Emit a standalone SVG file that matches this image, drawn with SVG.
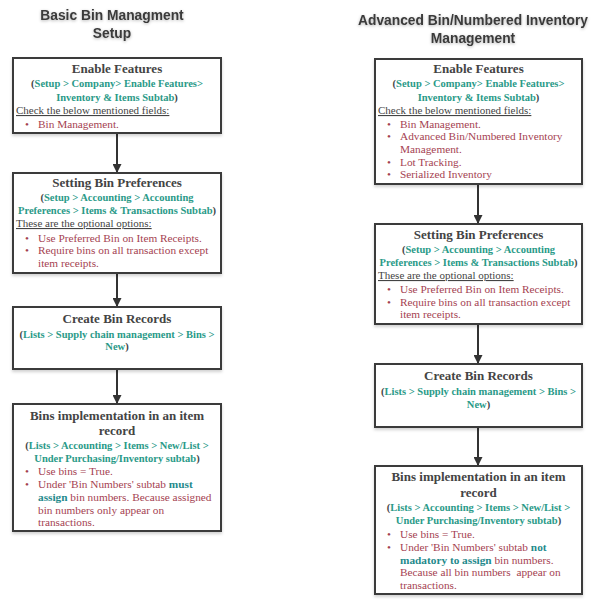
<svg xmlns="http://www.w3.org/2000/svg" width="597" height="600" viewBox="0 0 597 600">
<defs>
<filter id="sh" x="-10%" y="-10%" width="130%" height="130%"><feDropShadow dx="0" dy="2" stdDeviation="1.5" flood-color="#000" flood-opacity="0.18"/></filter>
<filter id="tsh" x="-10%" y="-30%" width="120%" height="170%"><feDropShadow dx="0" dy="1" stdDeviation="1.5" flood-color="#000" flood-opacity="0.3"/></filter>
<marker id="ah" viewBox="0 0 10 10" refX="10" refY="5" markerWidth="9" markerHeight="9" markerUnits="userSpaceOnUse" orient="auto"><path d="M0,0 L10,5 L0,10 z" fill="#333"/></marker>
</defs>
<style>
.title{font-family:"Liberation Sans",Arial,sans-serif;font-weight:bold;font-size:13.8px;fill:#3a3a3a;text-anchor:middle}
.box{fill:#fff;stroke:#3a3a3a;stroke-width:2}
.h{font-family:"Liberation Serif","Times New Roman",serif;font-weight:bold;font-size:13px;fill:#444;text-anchor:middle}
.g{font-family:"Liberation Serif","Times New Roman",serif;font-weight:bold;font-size:10.5px;fill:#2a9a88;text-anchor:middle}
.gp{fill:#444}
.u{font-family:"Liberation Serif","Times New Roman",serif;font-size:11px;fill:#444;text-decoration:underline}
.r{font-family:"Liberation Serif","Times New Roman",serif;font-size:11.3px;fill:#a53f52}
.b{font-weight:bold;fill:#1f8a8c}
.c{fill:none;stroke:#333;stroke-width:2}
</style>
<rect width="597" height="600" fill="#fff"/>
<g id="titles">
<text class="title" filter="url(#tsh)" x="112" y="20">Basic Bin Managment</text>
<text class="title" filter="url(#tsh)" x="112" y="38">Setup</text>
<text class="title" filter="url(#tsh)" x="473" y="25">Advanced Bin/Numbered Inventory</text>
<text class="title" filter="url(#tsh)" x="473" y="43">Management</text>
</g>
<g id="connectors">
<line class="c" x1="117" y1="133" x2="117" y2="173" marker-end="url(#ah)"/>
<line class="c" x1="117" y1="273" x2="117" y2="307" marker-end="url(#ah)"/>
<line class="c" x1="117" y1="369" x2="117" y2="404" marker-end="url(#ah)"/>
<line class="c" x1="478" y1="184" x2="478" y2="224" marker-end="url(#ah)"/>
<line class="c" x1="478" y1="324" x2="478" y2="364" marker-end="url(#ah)"/>
<line class="c" x1="478" y1="427" x2="478" y2="466" marker-end="url(#ah)"/>
</g>
<g id="l1">
<rect class="box" filter="url(#sh)" x="13" y="58" width="208" height="75"/>
<text class="h" x="117" y="73">Enable Features</text>
<text class="g" x="117" y="87"><tspan class="gp">(</tspan>Setup &gt; Company&gt; Enable Features&gt;</text>
<text class="g" x="117" y="101">Inventory &amp; Items Subtab<tspan class="gp">)</tspan></text>
<text class="u" x="16" y="114">Check the below mentioned fields:</text>
<text class="r" x="25" y="127.5">•</text><text class="r" x="38" y="127.5">Bin Management.</text>
</g>
<g id="l2">
<rect class="box" filter="url(#sh)" x="13" y="173" width="208" height="100"/>
<text class="h" x="117" y="187">Setting Bin Preferences</text>
<text class="g" x="117" y="201"><tspan class="gp">(</tspan>Setup &gt; Accounting &gt; Accounting</text>
<text class="g" x="117" y="214">Preferences &gt; Items &amp; Transactions Subtab<tspan class="gp">)</tspan></text>
<text class="u" x="16" y="227">These are the optional options:</text>
<text class="r" x="25" y="241.5">•</text><text class="r" x="38" y="241.5">Use Preferred Bin on Item Receipts.</text>
<text class="r" x="25" y="254">•</text><text class="r" x="38" y="254">Require bins on all transaction except</text>
<text class="r" x="38" y="266.5">item receipts.</text>
</g>
<g id="l3">
<rect class="box" filter="url(#sh)" x="13" y="307" width="208" height="62"/>
<text class="h" x="117" y="323">Create Bin Records</text>
<text class="g" x="117" y="337.5"><tspan class="gp">(</tspan>Lists &gt; Supply chain management &gt; Bins &gt;</text>
<text class="g" x="117" y="350">New<tspan class="gp">)</tspan></text>
</g>
<g id="l4">
<rect class="box" filter="url(#sh)" x="13" y="404" width="208" height="127"/>
<text class="h" x="117" y="419.5">Bins implementation in an item</text>
<text class="h" x="117" y="434.5">record</text>
<text class="g" x="117" y="448.5"><tspan class="gp">(</tspan>Lists &gt; Accounting &gt; Items &gt; New/List &gt;</text>
<text class="g" x="117" y="462">Under Purchasing/Inventory subtab<tspan class="gp">)</tspan></text>
<text class="r" x="25" y="475">•</text><text class="r" x="38" y="475">Use bins = True.</text>
<text class="r" x="25" y="488">•</text><text class="r" x="38" y="488">Under 'Bin Numbers' subtab <tspan class="b">must</tspan></text>
<text class="r" x="38" y="501"><tspan class="b">assign</tspan> bin numbers. Because assigned</text>
<text class="r" x="38" y="513.5">bin numbers only appear on</text>
<text class="r" x="38" y="526">transactions.</text>
</g>
<g id="r1">
<rect class="box" filter="url(#sh)" x="375" y="59" width="207" height="125"/>
<text class="h" x="478.5" y="73">Enable Features</text>
<text class="g" x="478.5" y="87"><tspan class="gp">(</tspan>Setup &gt; Company&gt; Enable Features&gt;</text>
<text class="g" x="478.5" y="100.5">Inventory &amp; Items Subtab<tspan class="gp">)</tspan></text>
<text class="u" x="378" y="114">Check the below mentioned fields:</text>
<text class="r" x="387" y="127.5">•</text><text class="r" x="400" y="127.5">Bin Management.</text>
<text class="r" x="387" y="140">•</text><text class="r" x="400" y="140">Advanced Bin/Numbered Inventory</text>
<text class="r" x="400" y="153">Management.</text>
<text class="r" x="387" y="165.5">•</text><text class="r" x="400" y="165.5">Lot Tracking.</text>
<text class="r" x="387" y="178">•</text><text class="r" x="400" y="178">Serialized Inventory</text>
</g>
<g id="r2">
<rect class="box" filter="url(#sh)" x="375" y="224" width="207" height="100"/>
<text class="h" x="478.5" y="238.5">Setting Bin Preferences</text>
<text class="g" x="478.5" y="253"><tspan class="gp">(</tspan>Setup &gt; Accounting &gt; Accounting</text>
<text class="g" x="478.5" y="266">Preferences &gt; Items &amp; Transactions Subtab<tspan class="gp">)</tspan></text>
<text class="u" x="378" y="279">These are the optional options:</text>
<text class="r" x="387" y="293">•</text><text class="r" x="400" y="293">Use Preferred Bin on Item Receipts.</text>
<text class="r" x="387" y="305.5">•</text><text class="r" x="400" y="305.5">Require bins on all transaction except</text>
<text class="r" x="400" y="318">item receipts.</text>
</g>
<g id="r3">
<rect class="box" filter="url(#sh)" x="375" y="364" width="207" height="63"/>
<text class="h" x="478.5" y="380">Create Bin Records</text>
<text class="g" x="478.5" y="395"><tspan class="gp">(</tspan>Lists &gt; Supply chain management &gt; Bins &gt;</text>
<text class="g" x="478.5" y="407.5">New<tspan class="gp">)</tspan></text>
</g>
<g id="r4">
<rect class="box" filter="url(#sh)" x="375" y="466" width="207" height="128"/>
<text class="h" x="478.5" y="481">Bins implementation in an item</text>
<text class="h" x="478.5" y="497">record</text>
<text class="g" x="478.5" y="511"><tspan class="gp">(</tspan>Lists &gt; Accounting &gt; Items &gt; New/List &gt;</text>
<text class="g" x="478.5" y="524">Under Purchasing/Inventory subtab<tspan class="gp">)</tspan></text>
<text class="r" x="387" y="538">•</text><text class="r" x="400" y="538">Use bins = True.</text>
<text class="r" x="387" y="551">•</text><text class="r" x="400" y="551">Under 'Bin Numbers' subtab <tspan class="b">not</tspan></text>
<text class="r" x="400" y="563.5"><tspan class="b">madatory to assign</tspan> bin numbers.</text>
<text class="r" x="400" y="576" xml:space="preserve">Because all bin numbers  appear on</text>
<text class="r" x="400" y="589">transactions.</text>
</g>
</svg>
